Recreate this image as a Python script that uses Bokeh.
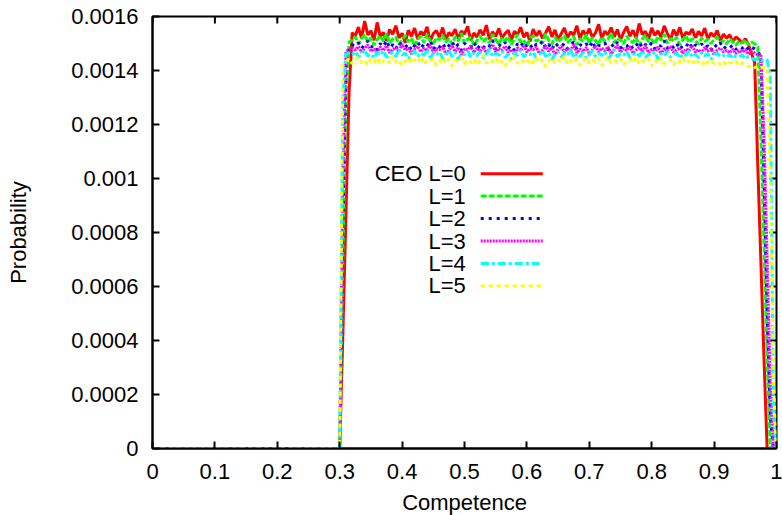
from bokeh.plotting import figure
from bokeh.models import Range1d, FixedTicker, CustomJSTickFormatter, Label, Arrow
from bokeh.embed import file_html
from bokeh.resources import INLINE

# Competence bins: origin, then 0.300 ... 1.000 in steps of 0.005
competence = [0.0] + [round(0.300 + 0.005 * i, 3) for i in range(141)]

# Probability per bin, in units of 1e-6
ceo_l0 = [0, 0, 420, 870, 1320, 1540,
    1528, 1561, 1519, 1583, 1532, 1547, 1512, 1578, 1526, 1541,
    1509, 1552, 1534, 1566, 1521, 1538, 1503, 1549, 1527, 1557,
    1516, 1544, 1531, 1562, 1508, 1537, 1548, 1522, 1559, 1513,
    1540, 1529, 1553, 1518, 1546, 1535, 1564, 1511, 1539, 1524,
    1551, 1530, 1568, 1515, 1543, 1526, 1556, 1520, 1537, 1549,
    1512, 1545, 1533, 1560, 1523, 1541, 1507, 1553, 1528, 1547,
    1519, 1539, 1562, 1525, 1550, 1514, 1536, 1558, 1521, 1543,
    1531, 1566, 1517, 1548, 1529, 1555, 1522, 1540, 1571, 1518,
    1546, 1532, 1559, 1524, 1552, 1513, 1541, 1563, 1527, 1549,
    1520, 1574, 1533, 1545, 1516, 1558, 1530, 1547, 1523, 1565,
    1538, 1512, 1551, 1529, 1560, 1519, 1542, 1534, 1554, 1521,
    1545, 1528, 1557, 1516, 1539, 1526, 1548, 1511, 1535, 1520,
    1532, 1507, 1524, 1515, 1501, 1518, 1497, 1462,
    1430, 1050, 690, 330, 0, 0, 0, 0]

l1 = [0, 0, 700, 1300, 1505,
    1512, 1526, 1498, 1519, 1533, 1505, 1521, 1494, 1515, 1529,
    1508, 1537, 1501, 1517, 1524, 1496, 1513, 1530, 1506, 1520,
    1491, 1516, 1527, 1503, 1535, 1510, 1499, 1522, 1514, 1531,
    1504, 1518, 1497, 1525, 1509, 1538, 1500, 1516, 1523, 1493,
    1511, 1528, 1507, 1519, 1502, 1534, 1515, 1498, 1521, 1510,
    1526, 1495, 1517, 1532, 1505, 1513, 1489, 1520, 1529, 1508,
    1516, 1501, 1536, 1512, 1497, 1524, 1506, 1519, 1530, 1503,
    1514, 1527, 1494, 1518, 1509, 1533, 1500, 1522, 1511, 1496,
    1525, 1507, 1516, 1539, 1502, 1520, 1513, 1498, 1528, 1510,
    1504, 1523, 1492, 1517, 1531, 1506, 1515, 1499, 1526, 1512,
    1535, 1501, 1519, 1508, 1524, 1495, 1514, 1529, 1503, 1518,
    1510, 1497, 1521, 1507, 1516, 1500, 1513, 1525, 1504, 1511,
    1498, 1517, 1506, 1493, 1509, 1502, 1514, 1495, 1505, 1499,
    1488,
    1150, 750, 330, 0, 0, 0]

l2 = [0, 0, 800, 1420, 1488, 1495,
    1490, 1503, 1481, 1497, 1509, 1486, 1494, 1476, 1500, 1488,
    1512, 1483, 1496, 1479, 1505, 1491, 1485, 1499, 1474, 1493,
    1507, 1482, 1498, 1489, 1511, 1478, 1495, 1487, 1502, 1480,
    1492, 1508, 1484, 1497, 1475, 1501, 1490, 1486, 1506, 1479,
    1494, 1483, 1499, 1491, 1513, 1477, 1496, 1488, 1504, 1482,
    1493, 1473, 1500, 1489, 1507, 1485, 1495, 1480, 1498, 1492,
    1510, 1484, 1497, 1476, 1503, 1490, 1487, 1501, 1481, 1494,
    1506, 1478, 1496, 1488, 1499, 1485, 1509, 1482, 1493, 1491,
    1502, 1475, 1498, 1486, 1505, 1483, 1495, 1489, 1500, 1479,
    1492, 1508, 1484, 1497, 1487, 1503, 1480, 1494, 1490, 1511,
    1482, 1496, 1485, 1501, 1477, 1493, 1488, 1506, 1481, 1495,
    1489, 1499, 1483, 1492, 1474, 1497, 1486, 1502, 1480, 1491,
    1484, 1495, 1478, 1489, 1482, 1493, 1476, 1486, 1480, 1471,
    1450, 1000, 500, 120, 0, 0]

l3 = [0, 0, 1000, 1470, 1478, 1484,
    1476, 1489, 1468, 1482, 1495, 1471, 1480, 1463, 1487, 1474,
    1492, 1466, 1479, 1485, 1470, 1498, 1475, 1483, 1461, 1478,
    1490, 1469, 1484, 1473, 1496, 1465, 1481, 1477, 1488, 1462,
    1474, 1493, 1470, 1486, 1459, 1480, 1476, 1491, 1467, 1483,
    1472, 1488, 1464, 1479, 1497, 1469, 1482, 1475, 1490, 1466,
    1478, 1460, 1485, 1473, 1494, 1468, 1481, 1477, 1487, 1463,
    1475, 1492, 1471, 1484, 1458, 1479, 1489, 1467, 1482, 1474,
    1496, 1465, 1480, 1470, 1486, 1462, 1477, 1491, 1469, 1483,
    1473, 1488, 1461, 1478, 1494, 1468, 1481, 1475, 1489, 1464,
    1476, 1485, 1471, 1493, 1466, 1479, 1472, 1487, 1460, 1482,
    1470, 1490, 1467, 1477, 1484, 1463, 1480, 1474, 1492, 1468,
    1478, 1465, 1486, 1472, 1481, 1459, 1476, 1483, 1469, 1474,
    1466, 1479, 1462, 1473, 1468, 1477, 1460, 1470, 1465, 1457,
    1460, 1150, 700, 250, 0, 0]

l4 = [0, 0, 1300, 1460, 1466,
    1458, 1471, 1449, 1464, 1477, 1453, 1462, 1445, 1468, 1456,
    1474, 1448, 1461, 1467, 1451, 1480, 1457, 1465, 1443, 1460,
    1472, 1450, 1466, 1455, 1478, 1447, 1463, 1459, 1470, 1444,
    1456, 1475, 1452, 1468, 1441, 1462, 1458, 1473, 1449, 1465,
    1454, 1470, 1446, 1461, 1479, 1451, 1464, 1457, 1472, 1448,
    1460, 1442, 1467, 1455, 1476, 1450, 1463, 1459, 1469, 1445,
    1457, 1474, 1453, 1466, 1440, 1461, 1471, 1449, 1464, 1456,
    1478, 1447, 1462, 1452, 1468, 1444, 1459, 1473, 1451, 1465,
    1455, 1470, 1443, 1460, 1476, 1450, 1463, 1457, 1471, 1446,
    1458, 1467, 1453, 1475, 1448, 1461, 1454, 1469, 1442, 1464,
    1452, 1472, 1449, 1459, 1466, 1445, 1462, 1456, 1474, 1450,
    1460, 1447, 1468, 1454, 1463, 1441, 1458, 1465, 1451, 1456,
    1448, 1461, 1444, 1455, 1450, 1459, 1442, 1452, 1447, 1439,
    1445, 1436, 1441,
    1440, 1380, 150, 0]

l5 = [0, 0, 1420,
    1432, 1446, 1425, 1439, 1452, 1428, 1437, 1420, 1443, 1431,
    1449, 1423, 1436, 1442, 1426, 1455, 1433, 1440, 1418, 1435,
    1447, 1425, 1441, 1430, 1453, 1422, 1438, 1434, 1445, 1419,
    1431, 1450, 1427, 1443, 1416, 1437, 1433, 1448, 1424, 1440,
    1429, 1445, 1421, 1436, 1454, 1426, 1439, 1432, 1447, 1423,
    1435, 1417, 1442, 1430, 1451, 1425, 1438, 1434, 1444, 1420,
    1432, 1449, 1428, 1441, 1415, 1436, 1446, 1424, 1439, 1431,
    1453, 1422, 1437, 1427, 1443, 1419, 1434, 1448, 1426, 1440,
    1430, 1445, 1418, 1435, 1451, 1425, 1438, 1432, 1446, 1421,
    1433, 1442, 1428, 1450, 1423, 1436, 1429, 1444, 1417, 1439,
    1427, 1447, 1424, 1434, 1441, 1420, 1437, 1431, 1449, 1425,
    1435, 1422, 1443, 1429, 1438, 1416, 1433, 1440, 1426, 1431,
    1423, 1436, 1419, 1430, 1425, 1434, 1417, 1428, 1422, 1414,
    1420, 1411, 1416, 1408, 1412, 1405,
    1000, 250, 0]

series_names = ["CEO L=0", "L=1", "L=2", "L=3", "L=4", "L=5"]
series_values = [ceo_l0, l1, l2, l3, l4, l5]
series_colors = ["#ff0000", "#00ff00", "#0000ff", "#ff00ff", "#00ffff", "#ffff00"]
series_dashes = ["solid", "6 2", "3 5", "2 1", "8 3 3 3", "4 4"]

x_ticks = [0, 0.1, 0.2, 0.3, 0.4, 0.5, 0.6, 0.7, 0.8, 0.9, 1]
y_ticks = [0, 0.0002, 0.0004, 0.0006, 0.0008, 0.001, 0.0012, 0.0014, 0.0016]

FONT = "Liberation Sans"
FS = "22px"
X_MIN, X_MAX = 0, 1
Y_MIN, Y_MAX = 0, 0.0016
FRAME_W, FRAME_H = 624, 432

p = figure(frame_width=FRAME_W, frame_height=FRAME_H,
           x_range=Range1d(X_MIN, X_MAX), y_range=Range1d(Y_MIN, Y_MAX),
           output_backend="svg", toolbar_location=None,
           min_border_left=152, min_border_right=6, min_border_top=16,
           min_border_bottom=60)
p.grid.visible = False
p.outline_line_color = "black"
p.outline_line_width = 2
p.background_fill_color = "white"
p.border_fill_color = "white"

plain = CustomJSTickFormatter(code="return String(tick);")

for ax in (p.xaxis[0], p.yaxis[0]):
    ax.axis_line_width = 2
    ax.axis_line_color = "black"
    ax.major_tick_line_width = 2
    ax.major_tick_in = 7
    ax.major_tick_out = 0
    ax.minor_tick_line_color = None
    ax.formatter = plain
    ax.major_label_text_font = FONT
    ax.major_label_text_font_size = FS
    ax.major_label_text_color = "black"
    ax.axis_label_text_font = FONT
    ax.axis_label_text_font_style = "normal"
    ax.axis_label_text_font_size = FS
    ax.axis_label_text_color = "black"

xa = p.xaxis[0]
xa.ticker = FixedTicker(ticks=x_ticks)
xa.major_label_standoff = 15
xa.axis_label = "Competence"
xa.axis_label_standoff = 8

ya = p.yaxis[0]
ya.ticker = FixedTicker(ticks=y_ticks)
ya.major_label_standoff = 14
ya.axis_label = "Probability"
ya.axis_label_standoff = 37

# mirrored inward ticks on the top and right edges of the frame
tick_dx = 7 / FRAME_W * (X_MAX - X_MIN)
tick_dy = 7 / FRAME_H * (Y_MAX - Y_MIN)
p.segment(x0=x_ticks, y0=[Y_MAX] * len(x_ticks), x1=x_ticks,
          y1=[Y_MAX - tick_dy] * len(x_ticks), line_color="black", line_width=2)
p.segment(x0=[X_MAX] * len(y_ticks), y0=y_ticks, x1=[X_MAX - tick_dx] * len(y_ticks),
          y1=y_ticks, line_color="black", line_width=2)

for vals, color, dash in zip(series_values, series_colors, series_dashes):
    prob = [v * 1e-6 for v in vals]
    p.line(competence, prob, line_color=color, line_width=3, line_dash=dash)

# key: labels right-aligned, sample strokes to their right
key_text_x = 0.502
key_line_x0, key_line_x1 = 0.526, 0.6255
key_top, key_step = 0.001018, 0.0000832
for i, (name, color, dash) in enumerate(zip(series_names, series_colors, series_dashes)):
    yk = key_top - i * key_step
    p.add_layout(Label(x=key_text_x, y=yk, text=name, text_align="right",
                       text_baseline="middle", text_font=FONT, text_font_size=FS,
                       text_color="black"))
    p.add_layout(Arrow(end=None, x_start=key_line_x0, y_start=yk, x_end=key_line_x1,
                       y_end=yk, line_color=color, line_width=3, line_dash=dash))

open("out.html", "w").write(file_html(p, INLINE))
